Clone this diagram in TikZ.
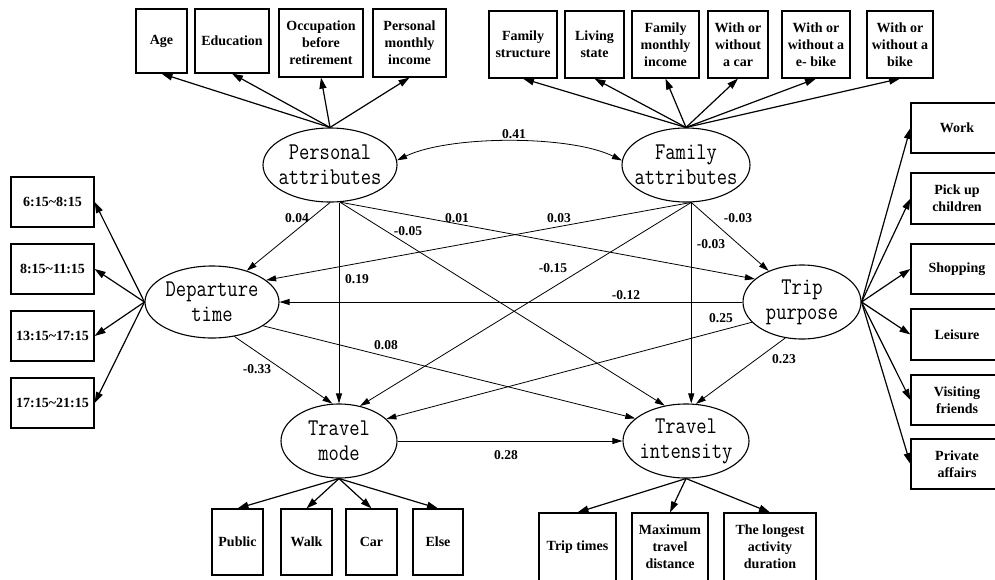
\documentclass[tikz,border=0pt]{standalone}
\usepackage{fontspec}
\usepackage{graphicx}
\setmainfont{Liberation Serif}
\usetikzlibrary{arrows.meta,shapes.geometric}
\newcommand\lattxt[2]{\makebox[0pt]{\scalebox{1}[1.2]{#1}}\\\makebox[0pt]{\scalebox{1}[1.2]{#2}}}
\begin{document}
\begin{tikzpicture}[x=1pt,y=-1pt,
  lat/.style={ellipse, draw, line width=1.1pt, inner sep=0pt, align=center,
    font=\ttfamily\fontsize{20}{25}\selectfont},
  bx/.style={rectangle, draw, line width=1.2pt, inner sep=0pt, align=center,
    font=\bfseries\fontsize{14}{17}\selectfont},
  coef/.style={font=\bfseries\fontsize{13.5}{16}\selectfont, inner sep=0pt},
  outarr/.style={line width=1.2pt, -{Triangle[length=11pt,width=7pt]}},
  inarr/.style={line width=0.8pt, -{Triangle[length=10pt,width=6pt]}},
]
\useasboundingbox (0,0) rectangle (995,579);

% latent variables
\node[lat, minimum width=134pt, minimum height=74pt] (pa) at (330,165) {\lattxt{Personal}{attributes}};
\node[lat, minimum width=128pt, minimum height=74pt] (fa) at (686,165) {\lattxt{Family}{attributes}};
\node[lat, minimum width=134pt, minimum height=72pt] (dt) at (212,302) {\lattxt{Departure}{time}};
\node[lat, minimum width=118pt, minimum height=74pt] (tp) at (802,302) {\lattxt{Trip}{purpose}};
\node[lat, minimum width=116pt, minimum height=74pt] (tm) at (339,441) {\lattxt{Travel}{mode}};
\node[lat, minimum width=126pt, minimum height=74pt] (ti) at (686,441) {\lattxt{Travel}{intensity}};

% top-left boxes
\node[bx, minimum width=51pt, minimum height=64pt] (age) at (161.5,41) {Age};
\node[bx, minimum width=74pt, minimum height=64pt] (edu) at (232,41) {Education};
\node[bx, minimum width=84pt, minimum height=68pt] (occ) at (321,43) {Occupation\\before\\retirement};
\node[bx, minimum width=73pt, minimum height=68pt] (pinc) at (409.5,43) {Personal\\monthly\\income};

% top-right boxes
\node[bx, minimum width=68pt, minimum height=67pt] (fstr) at (523,44.5) {Family\\structure};
\node[bx, minimum width=59pt, minimum height=67pt] (liv) at (594.5,44.5) {Living\\state};
\node[bx, minimum width=67pt, minimum height=67pt] (finc) at (665.5,44.5) {Family\\monthly\\income};
\node[bx, minimum width=60pt, minimum height=67pt] (car) at (738,44.5) {With or\\without\\a car};
\node[bx, minimum width=68pt, minimum height=67pt] (ebike) at (816,44.5) {With or\\without a\\e- bike};
\node[bx, minimum width=66pt, minimum height=67pt] (bike) at (900,44.5) {With or\\without a\\bike};

% right boxes
\node[bx, minimum width=92pt, minimum height=50pt] (work) at (957,128) {Work};
\node[bx, minimum width=92pt, minimum height=51pt] (pick) at (957,198.5) {Pick up\\children};
\node[bx, minimum width=92pt, minimum height=50pt] (shop) at (957,269) {Shopping};
\node[bx, minimum width=92pt, minimum height=51pt] (leis) at (957,334.5) {Leisure};
\node[bx, minimum width=92pt, minimum height=50pt] (visit) at (957,400) {Visiting\\friends};
\node[bx, minimum width=92pt, minimum height=50pt] (priv) at (957,464) {Private\\affairs};

% left boxes
\node[bx, minimum width=83pt, minimum height=50pt] (ta) at (52.5,202) {6:15\textasciitilde 8:15};
\node[bx, minimum width=83pt, minimum height=50pt] (tb) at (52.5,269) {8:15\textasciitilde 11:15};
\node[bx, minimum width=83pt, minimum height=50pt] (tc) at (52.5,336) {13:15\textasciitilde 17:15};
\node[bx, minimum width=83pt, minimum height=50pt] (td) at (52.5,403) {17:15\textasciitilde 21:15};

% bottom boxes
\node[bx, minimum width=51pt, minimum height=66pt] (pub) at (237.5,542) {Public};
\node[bx, minimum width=51pt, minimum height=66pt] (walk) at (306.5,542) {Walk};
\node[bx, minimum width=51pt, minimum height=66pt] (carb) at (371.5,542) {Car};
\node[bx, minimum width=50pt, minimum height=66pt] (els) at (438,542) {Else};
\node[bx, minimum width=77pt, minimum height=68pt] (trips) at (577.5,547) {Trip times};
\node[bx, minimum width=76pt, minimum height=68pt] (maxd) at (670,547) {Maximum\\travel\\distance};
\node[bx, minimum width=92pt, minimum height=68pt] (lng) at (770,547) {The longest\\activity\\duration};

% measurement arrows
\foreach \b in {age,edu,occ,pinc} \draw[outarr] (pa.north) -- (\b.south);
\foreach \b in {fstr,liv,finc,car,ebike,bike} \draw[outarr] (fa.north) -- (\b.south);
\foreach \b in {ta,tb,tc,td} \draw[outarr] (dt.west) -- (\b.east);
\foreach \b in {work,pick,shop,leis,visit,priv} \draw[outarr] (tp.east) -- (\b.west);
\foreach \b in {pub,walk,carb,els} \draw[outarr] (tm.south) -- (\b.north);
\foreach \b in {trips,maxd,lng} \draw[outarr] (ti.south) -- (\b.north);

% structural paths
\draw[inarr] (pa.south) -- (dt.42);
\draw[inarr] (tm.north |- pa.south) -- (tm.north);
\draw[inarr] (pa.-75) -- (ti.121);
\draw[inarr] (pa.-75) -- (tp.154);
\draw[inarr] (fa.-82) -- (dt.22);
\draw[inarr] (fa.-82) -- (tm.59);
\draw[inarr] (fa.-82) -- (fa.-82 |- ti.north);
\draw[inarr] (fa.-82) -- (tp.137);
\draw[inarr] (tp.west) -- (dt.east);
\draw[inarr] (tp.202) -- (tm.25);
\draw[inarr] (tp.245) -- (ti.75);
\draw[inarr] (dt.-57) -- (tm.100);
\draw[inarr] (dt.-25) -- (ti.156);
\draw[inarr] (tm.east) -- (ti.west);
\draw[line width=0.8pt, {Triangle[length=10pt,width=6pt]}-{Triangle[length=10pt,width=6pt]}]
  (pa.4) .. controls (450,135) and (570,135) .. (fa.176);

% coefficients
\node[coef] (c1) at (514,134) {0.41};
\node[coef] (c2) at (297,218) {0.04};
\node[coef] (c3) at (457,218) {0.01};
\node[coef] (c4) at (408,231) {-0.05};
\node[coef] (c5) at (559,218) {0.03};
\node[coef] (c6) at (357,279) {0.19};
\node[coef] (c7) at (553,268) {-0.15};
\node[coef] (c8) at (711,244) {-0.03};
\node[coef] (c9) at (738,218) {-0.03};
\node[coef] (c10) at (626,295) {-0.12};
\node[coef] (c11) at (721,318) {0.25};
\node[coef] (c12) at (784,359) {0.23};
\node[coef] (c13) at (386,345) {0.08};
\node[coef] (c14) at (257,369) {-0.33};
\node[coef] (c15) at (506,455) {0.28};
\end{tikzpicture}
\end{document}
